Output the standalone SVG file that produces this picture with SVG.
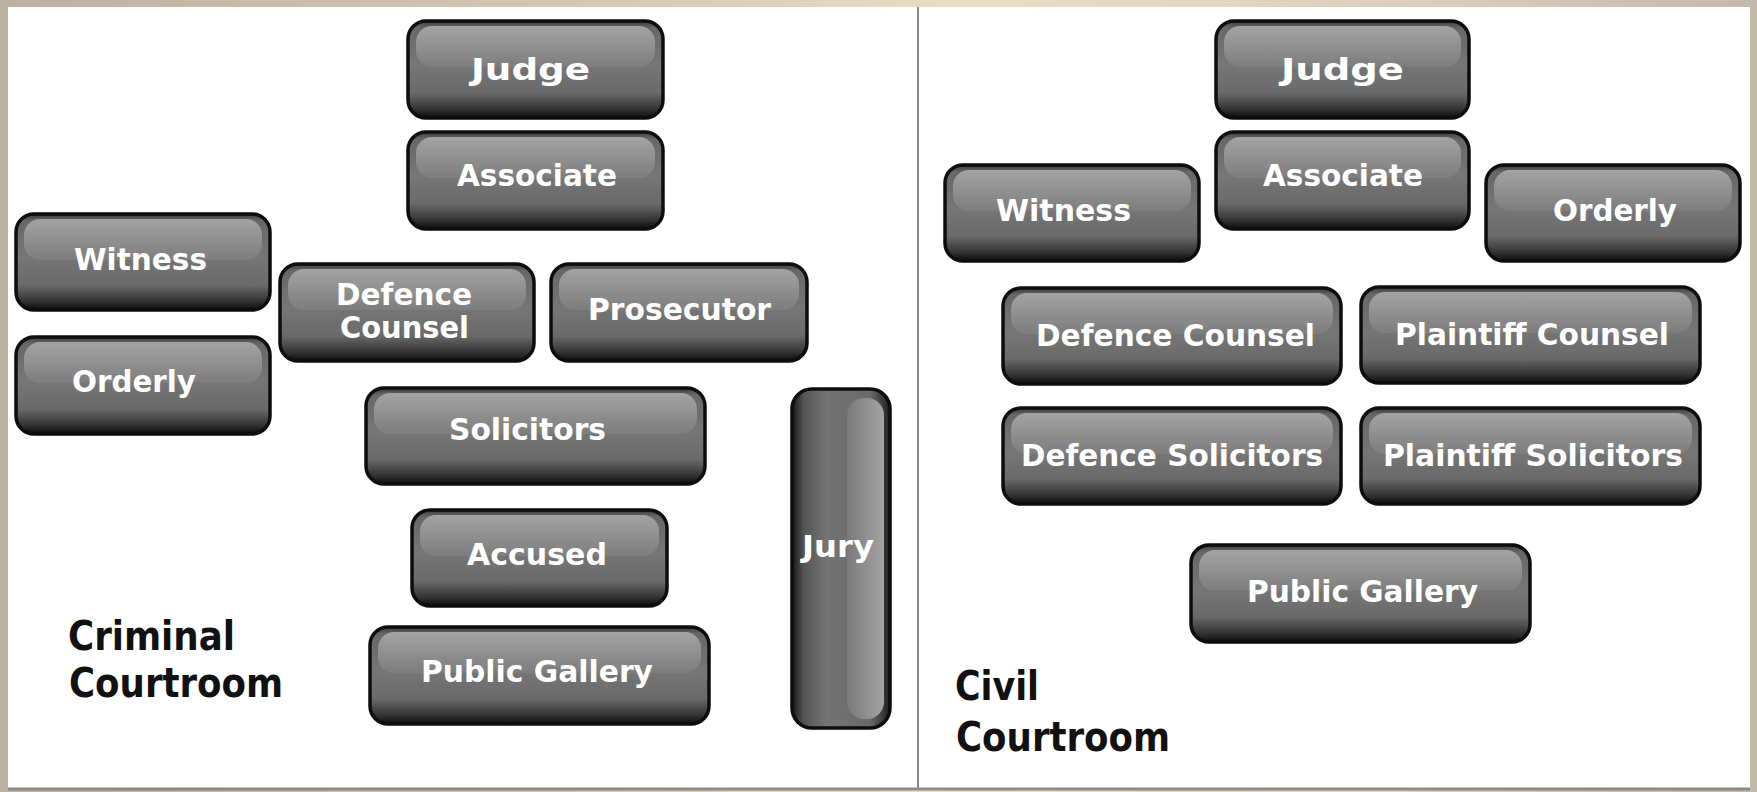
<svg xmlns="http://www.w3.org/2000/svg" width="1757" height="792" viewBox="0 0 1757 792">
<defs>
<linearGradient id="frameGrad" x1="0" y1="0" x2="1" y2="0">
<stop offset="0" stop-color="#bdb1a2"/>
<stop offset="0.35" stop-color="#d6c8b4"/>
<stop offset="0.55" stop-color="#ecdcc3"/>
<stop offset="0.8" stop-color="#dccfbd"/>
<stop offset="1" stop-color="#c3b8aa"/>
</linearGradient>
<linearGradient id="bodyGrad" x1="0" y1="0" x2="0" y2="1">
<stop offset="0" stop-color="#3a3a3a"/>
<stop offset="0.07" stop-color="#676767"/>
<stop offset="0.45" stop-color="#767676"/>
<stop offset="0.74" stop-color="#6a6a6a"/>
<stop offset="0.9" stop-color="#363636"/>
<stop offset="1" stop-color="#0d0d0d"/>
</linearGradient>
<linearGradient id="glossGrad" x1="0" y1="0" x2="0" y2="1">
<stop offset="0" stop-color="#a3a3a3"/>
<stop offset="1" stop-color="#7d7d7d"/>
</linearGradient>
<linearGradient id="bodyGradV" x1="0" y1="0" x2="1" y2="0">
<stop offset="0" stop-color="#151515"/>
<stop offset="0.12" stop-color="#555"/>
<stop offset="0.35" stop-color="#747474"/>
<stop offset="0.8" stop-color="#6a6a6a"/>
<stop offset="1" stop-color="#1e1e1e"/>
</linearGradient>
<linearGradient id="glossGradV" x1="0" y1="0" x2="1" y2="0">
<stop offset="0" stop-color="#7a7a7a"/>
<stop offset="1" stop-color="#a3a3a3"/>
</linearGradient>
<style>
.body{fill:url(#bodyGrad);stroke:#0d0d0d;stroke-width:3.5}
.gloss{fill:url(#glossGrad)}
.lbl{fill:#fff;font-family:"DejaVu Sans",Verdana,sans-serif;font-weight:bold;font-size:30px}
.title{fill:#111;font-family:"DejaVu Sans",Tahoma,sans-serif;font-weight:bold;font-size:40px}
</style>
</defs>
<rect x="0" y="0" width="1757" height="792" fill="url(#frameGrad)"/>
<rect x="8" y="7" width="1742" height="782" fill="#fff"/>
<g id="dividers">
<line x1="918" y1="7" x2="918" y2="789" stroke="#8a8a8a" stroke-width="2"/>
<line x1="8" y1="789" x2="1750" y2="789" stroke="#8a8a8a" stroke-width="3"/>
</g>
<g id="connectors"></g>

<g id="l-judge"><rect class="body" x="408" y="21" width="255" height="97" rx="18"/><rect class="gloss" x="416" y="26" width="239" height="41" rx="16"/><text class="lbl" x="471" y="80" font-size="37" textLength="119" lengthAdjust="spacingAndGlyphs">Judge</text></g>
<g id="l-associate"><rect class="body" x="408" y="132" width="255" height="97" rx="18"/><rect class="gloss" x="416" y="137" width="239" height="41" rx="16"/><text class="lbl" x="457" y="186" textLength="160" lengthAdjust="spacingAndGlyphs">Associate</text></g>
<g id="l-witness"><rect class="body" x="16" y="214" width="254" height="96" rx="18"/><rect class="gloss" x="24" y="219" width="238" height="41" rx="16"/><text class="lbl" x="74" y="270" textLength="133" lengthAdjust="spacingAndGlyphs">Witness</text></g>
<g id="l-orderly"><rect class="body" x="16" y="337" width="254" height="97" rx="18"/><rect class="gloss" x="24" y="342" width="238" height="41" rx="16"/><text class="lbl" x="72" y="392" textLength="124" lengthAdjust="spacingAndGlyphs">Orderly</text></g>
<g id="l-defence-counsel"><rect class="body" x="280" y="264" width="254" height="97" rx="18"/><rect class="gloss" x="288" y="269" width="238" height="41" rx="16"/><text class="lbl" x="336" y="305" textLength="136" lengthAdjust="spacingAndGlyphs">Defence</text><text class="lbl" x="340" y="338" textLength="129" lengthAdjust="spacingAndGlyphs">Counsel</text></g>
<g id="l-prosecutor"><rect class="body" x="551" y="264" width="256" height="97" rx="18"/><rect class="gloss" x="559" y="269" width="240" height="41" rx="16"/><text class="lbl" x="588" y="320" textLength="183" lengthAdjust="spacingAndGlyphs">Prosecutor</text></g>
<g id="l-solicitors"><rect class="body" x="366" y="388" width="339" height="96" rx="18"/><rect class="gloss" x="374" y="393" width="323" height="41" rx="16"/><text class="lbl" x="449" y="440" textLength="157" lengthAdjust="spacingAndGlyphs">Solicitors</text></g>
<g id="l-accused"><rect class="body" x="412" y="510" width="255" height="96" rx="18"/><rect class="gloss" x="420" y="515" width="239" height="41" rx="16"/><text class="lbl" x="467" y="565" textLength="140" lengthAdjust="spacingAndGlyphs">Accused</text></g>
<g id="l-public-gallery"><rect class="body" x="370" y="627" width="339" height="97" rx="18"/><rect class="gloss" x="378" y="632" width="323" height="41" rx="16"/><text class="lbl" x="421" y="682" textLength="232" lengthAdjust="spacingAndGlyphs">Public Gallery</text></g>
<g id="l-jury"><rect x="792" y="389" width="98" height="339" rx="20" fill="url(#bodyGradV)" stroke="#0d0d0d" stroke-width="3.5"/><rect x="847" y="398" width="37" height="321" rx="17" fill="url(#glossGradV)"/><text class="lbl" x="802" y="557" font-size="28" textLength="72" lengthAdjust="spacingAndGlyphs">Jury</text></g>
<g id="l-title"><text class="title" x="68" y="650" textLength="167" lengthAdjust="spacingAndGlyphs">Criminal</text><text class="title" x="69" y="697" textLength="214" lengthAdjust="spacingAndGlyphs">Courtroom</text></g>

<g id="r-judge"><rect class="body" x="1216" y="21" width="253" height="97" rx="18"/><rect class="gloss" x="1224" y="26" width="237" height="41" rx="16"/><text class="lbl" x="1281" y="80" font-size="37" textLength="123" lengthAdjust="spacingAndGlyphs">Judge</text></g>
<g id="r-associate"><rect class="body" x="1216" y="132" width="253" height="97" rx="18"/><rect class="gloss" x="1224" y="137" width="237" height="41" rx="16"/><text class="lbl" x="1263" y="186" textLength="160" lengthAdjust="spacingAndGlyphs">Associate</text></g>
<g id="r-witness"><rect class="body" x="945" y="165" width="254" height="96" rx="18"/><rect class="gloss" x="953" y="170" width="238" height="41" rx="16"/><text class="lbl" x="996" y="221" textLength="135" lengthAdjust="spacingAndGlyphs">Witness</text></g>
<g id="r-orderly"><rect class="body" x="1486" y="165" width="254" height="96" rx="18"/><rect class="gloss" x="1494" y="170" width="238" height="41" rx="16"/><text class="lbl" x="1553" y="221" textLength="124" lengthAdjust="spacingAndGlyphs">Orderly</text></g>
<g id="r-defence-counsel"><rect class="body" x="1003" y="288" width="338" height="96" rx="18"/><rect class="gloss" x="1011" y="293" width="322" height="41" rx="16"/><text class="lbl" x="1036" y="346" textLength="279" lengthAdjust="spacingAndGlyphs">Defence Counsel</text></g>
<g id="r-plaintiff-counsel"><rect class="body" x="1361" y="287" width="339" height="96" rx="18"/><rect class="gloss" x="1369" y="292" width="323" height="41" rx="16"/><text class="lbl" x="1395" y="345" textLength="274" lengthAdjust="spacingAndGlyphs">Plaintiff Counsel</text></g>
<g id="r-defence-solicitors"><rect class="body" x="1003" y="408" width="338" height="96" rx="18"/><rect class="gloss" x="1011" y="413" width="322" height="41" rx="16"/><text class="lbl" x="1021" y="466" textLength="302" lengthAdjust="spacingAndGlyphs">Defence Solicitors</text></g>
<g id="r-plaintiff-solicitors"><rect class="body" x="1361" y="408" width="339" height="96" rx="18"/><rect class="gloss" x="1369" y="413" width="323" height="41" rx="16"/><text class="lbl" x="1383" y="466" textLength="300" lengthAdjust="spacingAndGlyphs">Plaintiff Solicitors</text></g>
<g id="r-public-gallery"><rect class="body" x="1191" y="545" width="339" height="97" rx="18"/><rect class="gloss" x="1199" y="550" width="323" height="41" rx="16"/><text class="lbl" x="1247" y="602" textLength="231" lengthAdjust="spacingAndGlyphs">Public Gallery</text></g>
<g id="r-title"><text class="title" x="955" y="700" textLength="84" lengthAdjust="spacingAndGlyphs">Civil</text><text class="title" x="956" y="751" textLength="214" lengthAdjust="spacingAndGlyphs">Courtroom</text></g>
</svg>
